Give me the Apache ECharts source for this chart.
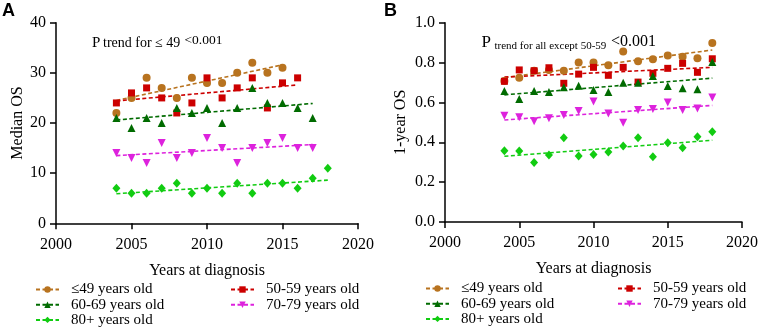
<!DOCTYPE html>
<html><head><meta charset="utf-8">
<script src="https://cdn.jsdelivr.net/npm/echarts@6/dist/echarts.min.js"></script>
<style>html,body{margin:0;padding:0;background:#fff}#c{width:761px;height:328px}</style>
</head><body><div id="c"></div>
<script>
// ---- Data ----
const groups = ['≤49 years old','50-59 years old','60-69 years old','70-79 years old','80+ years old'];
// Panel A: Median OS
const yearsA49 = [2004,2005,2006,2007,2008,2009,2010,2011,2012,2013,2014,2015];
const osA49 = [22,25,29,27,25,29,28,28,30,32,30,31];
const yearsA50 = [2004,2005,2006,2007,2008,2009,2010,2011,2012,2013,2014,2015,2016];
const osA50 = [24,26,27,25,22,24,29,25,27,29,23,28,29];
const yearsA60 = [2004,2005,2006,2007,2008,2009,2010,2011,2012,2013,2014,2015,2016,2017];
const osA60 = [21,19,21,20,23,22,23,20,23,27,24,24,23,21];
const yearsA70 = [2004,2005,2006,2007,2008,2009,2010,2011,2012,2013,2014,2015,2016,2017];
const osA70 = [14,13,12,16,13,14,17,15,12,15,16,17,15,15];
const yearsA80 = [2004,2005,2006,2007,2008,2009,2010,2011,2012,2013,2014,2015,2016,2017,2018];
const osA80 = [7,6,6,7,8,6,7,6,8,6,8,8,7,9,11];
// Panel A trend lines (start/end)
const trendA49 = [[2004,24.5],[2015,31.6]];
const trendA50 = [[2004,24.4],[2016,27.6]];
const trendA60 = [[2004,20.6],[2017,23.9]];
const trendA70 = [[2004,13.5],[2017,15.7]];
const trendA80 = [[2004,5.9],[2018,8.6]];
// Panel B: 1-year OS
const yearsB = [2004,2005,2006,2007,2008,2009,2010,2011,2012,2013,2014,2015,2016,2017,2018];
const osB49 = [0.707,0.724,0.759,0.763,0.759,0.80,0.80,0.786,0.855,0.806,0.816,0.836,0.829,0.821,0.898];
const osB50 = [0.706,0.763,0.759,0.774,0.696,0.742,0.776,0.736,0.776,0.702,0.746,0.771,0.796,0.751,0.819];
const osB60 = [0.657,0.617,0.657,0.652,0.676,0.684,0.662,0.652,0.699,0.699,0.732,0.682,0.671,0.666,0.803];
const osB70 = [0.533,0.525,0.505,0.52,0.537,0.557,0.604,0.545,0.498,0.562,0.567,0.599,0.562,0.570,0.625];
const osB80 = [0.358,0.356,0.298,0.336,0.423,0.331,0.339,0.351,0.381,0.423,0.328,0.398,0.373,0.428,0.453];
const trendB49 = [[2004,0.724],[2018,0.863]];
const trendB50 = [[2004,0.727],[2018,0.776]];
const trendB60 = [[2004,0.638],[2018,0.722]];
const trendB70 = [[2004,0.512],[2018,0.585]];
const trendB80 = [[2004,0.330],[2018,0.410]];
const xTicks = [2000,2005,2010,2015,2020];

// ---- Styles ----
const colors = ['#b8731f','#cc0000','#006b00','#dd22dd','#11cc11'];
const symbols = ['circle','rect','triangle','triangle','diamond'];
const rotates = [0,0,0,180,0];
const sizes = [8,7,8,8,[8,9]];
const FONT = 'Liberation Serif';

function zip(xs, ys){ return xs.map((x,i)=>[x,ys[i]]); }

const dataA = [zip(yearsA49,osA49),zip(yearsA50,osA50),zip(yearsA60,osA60),zip(yearsA70,osA70),zip(yearsA80,osA80)];
const trA = [trendA49,trendA50,trendA60,trendA70,trendA80];
const dataB = [zip(yearsB,osB49),zip(yearsB,osB50),zip(yearsB,osB60),zip(yearsB,osB70),zip(yearsB,osB80)];
const trB = [trendB49,trendB50,trendB60,trendB70,trendB80];

const series = [];
[[dataA,trA,0],[dataB,trB,1]].forEach(([d,t,gi])=>{
  groups.forEach((g,i)=>{
    series.push({
      type:'line', name:g, xAxisIndex:gi, yAxisIndex:gi, data:t[i],
      symbol:symbols[i], symbolRotate:rotates[i], showSymbol:false, silent:true,
      lineStyle:{color:colors[i], width:1.6, type:[4,2.5]},
      itemStyle:{color:colors[i]}, z:2, animation:false
    });
  });
  groups.forEach((g,i)=>{
    series.push({
      type:'scatter', name:g+' pts', xAxisIndex:gi, yAxisIndex:gi, data:d[i],
      symbol:symbols[i], symbolRotate:rotates[i], symbolSize:sizes[i],
      itemStyle:{color:colors[i], opacity:1}, z:3, animation:false
    });
  });
});

function xAx(gi){
  return {type:'value', gridIndex:gi, min:xTicks[0], max:xTicks[xTicks.length-1], interval:5,
    name:'Years at diagnosis', nameLocation:'middle', nameGap:39,
    nameTextStyle:{fontFamily:FONT, fontSize:16, color:'#000'},
    axisLine:{show:true, lineStyle:{color:'#000', width:1.5}},
    axisTick:{show:true, length:6, lineStyle:{color:'#000', width:1.5}},
    axisLabel:{fontFamily:FONT, fontSize:16, color:'#000', margin:13, formatter:v=>String(v)},
    splitLine:{show:false}};
}
function yAx(gi, max, interval, name, gap, fmt){
  return {type:'value', gridIndex:gi, min:0, max:max, interval:interval,
    name:name, nameLocation:'middle', nameGap:gap, nameRotate:90,
    nameTextStyle:{fontFamily:FONT, fontSize:16, color:'#000'},
    axisLine:{show:true, lineStyle:{color:'#000', width:1.5}},
    axisTick:{show:true, length:6, lineStyle:{color:'#000', width:1.5}},
    axisLabel:{fontFamily:FONT, fontSize:16, color:'#000', margin:10, formatter:fmt},
    splitLine:{show:false}};
}

const legTxt = {fontFamily:FONT, fontSize:15, color:'#000', padding:[0,0,0,7], lineHeight:15};
function leg(names, left, top){
  return {data:names, orient:'vertical', left:left, top:top, itemWidth:23, itemHeight:8,
    itemGap:0.2, padding:0, textStyle:legTxt, selectedMode:false};
}

const chart = echarts.init(document.getElementById('c'), null, {renderer:'canvas'});
chart.setOption({
  animation:false,
  grid:[{left:56, top:22.7, width:302, height:200.6},{left:445, top:22.7, width:300, height:199.3}],
  xAxis:[xAx(0), xAx(1)],
  yAxis:[yAx(0,40,10,'Median OS',30,v=>String(v)), yAx(1,1.0,0.2,'1-year OS',36,v=>v.toFixed(1))],
  legend:[
    leg([groups[0],groups[2],groups[4]], 35, 282),
    leg([groups[1],groups[3]], 230, 282),
    leg([groups[0],groups[2],groups[4]], 425, 281),
    leg([groups[1],groups[3]], 617, 281)
  ],
  graphic:[
    {type:'text', left:2, top:2, style:{text:'A', fontFamily:'Liberation Sans', fontWeight:'bold', fontSize:18, fill:'#000'}},
    {type:'text', left:384, top:2, style:{text:'B', fontFamily:'Liberation Sans', fontWeight:'bold', fontSize:18, fill:'#000'}},
    {type:'text', x:92, y:43.5, style:{text:'P', fontFamily:FONT, fontSize:15, fill:'#000', verticalAlign:'middle'}},
    {type:'text', x:103, y:43.8, style:{text:'trend for ≤ 49', fontFamily:FONT, fontSize:14, fill:'#000', verticalAlign:'middle'}},
    {type:'text', x:184.5, y:40.5, style:{text:'<0.001', fontFamily:FONT, fontSize:13.5, fill:'#000', verticalAlign:'middle'}},
    {type:'text', x:481.5, y:42.5, style:{text:'P', fontFamily:FONT, fontSize:17, fill:'#000', verticalAlign:'middle'}},
    {type:'text', x:494.5, y:45.8, style:{text:'trend for all except 50-59', fontFamily:FONT, fontSize:11, fill:'#000', verticalAlign:'middle'}},
    {type:'text', x:611, y:42, style:{text:'<0.001', fontFamily:FONT, fontSize:16, fill:'#000', verticalAlign:'middle'}}
  ],
  series:series
});
</script></body></html>
